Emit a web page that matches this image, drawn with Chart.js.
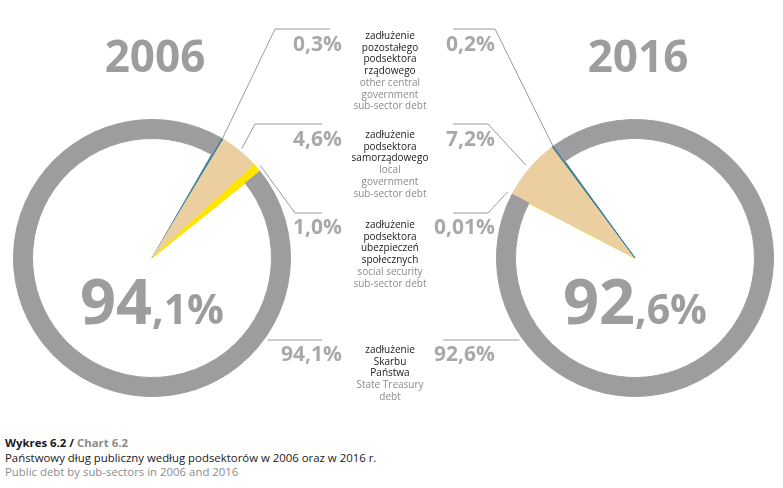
<!DOCTYPE html>
<html lang="pl">
<head>
<meta charset="utf-8">
<title>Wykres 6.2</title>
<script src="https://cdn.jsdelivr.net/npm/chart.js@4.4.1/dist/chart.umd.min.js"></script>
<style>
  body { margin: 0; width: 783px; height: 488px; background: #fff; font-family: "Open Sans", sans-serif; position: relative; overflow: hidden; }
  canvas { position: absolute; top: 0; }
  #pie2006 { left: 0; }
  #pie2016 { left: 392px; }
  .year { position: absolute; top: 33px; width: 160px; margin-left: -80px; text-align: center; font-size: 44px; line-height: 44px; font-weight: 700; color: #9d9d9f; }
  .big { position: absolute; top: 268px; width: 220px; margin-left: -110px; text-align: center; font-size: 63px; line-height: 64px; font-weight: 700; color: #9d9d9f; }
  .big span { font-size: 41px; }
  .pct { position: absolute; font-size: 21px; line-height: 21px; font-weight: 700; color: #a9a9ab; text-align: right; width: 80px; }
  .name { position: absolute; left: 330px; width: 120px; text-align: center; font-size: 10px; line-height: 11.7px; color: #1a1a1a; }
  .name .en { color: #8c8c8c; }
  #caption { position: absolute; left: 5px; top: 436px; font-size: 11.4px; line-height: 14.6px; color: #1a1a1a; }
  #caption b { font-weight: 700; }
  #caption .grey { color: #8c8c8c; }
</style>
</head>
<body>
<canvas id="pie2006" width="392" height="420"></canvas>
<canvas id="pie2016" width="391" height="420"></canvas>
<div id="labels"></div>
<div id="caption">
  <b>Wykres 6.2 / <span class="grey">Chart 6.2</span></b><br>
  Państwowy dług publiczny według podsektorów w 2006 oraz w 2016 r.<br>
  <span class="grey">Public debt by sub-sectors in 2006 and 2016</span>
</div>
<script>
// dane: udział podsektorów w państwowym długu publicznym (%)
const sectorsPl = ["zadłużenie<br>pozostałego<br>podsektora<br>rządowego", "zadłużenie<br>podsektora<br>samorządowego", "zadłużenie<br>podsektora<br>ubezpieczeń<br>społecznych", "zadłużenie<br>Skarbu<br>Państwa"];
const sectorsEn = ["other central<br>government<br>sub-sector debt", "local<br>government<br>sub-sector debt", "social security<br>sub-sector debt", "State Treasury<br>debt"];
const years = ["2006", "2016"];
const share2006 = [0.3, 4.6, 1.0, 94.1];
const share2016 = [0.2, 7.2, 0.01, 92.6];
const sectorColors = ["#3a7e9a", "#ebcfa1", "#ffe500", "#9d9d9f"];

// układ (pozycje napisów i linii)
const rowTops = [30, 129, 219, 344];
const pctTops = [33, 128, 216, 343];
const lineY = [29, 124, 213, 340];

function fmt(v) {
  return (v < 0.1 ? v.toFixed(2) : v.toFixed(1)).replace(".", ",");
}

// linie odniesienia od wycinków do opisów
const leaderPlugin = {
  id: "leaders",
  afterDraw(chart, args, opts) {
    const ctx = chart.ctx;
    const arcs = chart.getDatasetMeta(0).data;
    ctx.save();
    ctx.strokeStyle = "#9a9a9a";
    ctx.lineWidth = 1;
    opts.items.forEach(item => {
      const arc = arcs[item.index];
      const R = arc.outerRadius;
      let start;
      if (item.ringY !== undefined) {
        const dy = item.ringY - arc.y;
        const dx = Math.sqrt(R * R - dy * dy) + 4;
        start = [arc.x + item.side * dx, item.ringY];
      } else {
        const a = (arc.startAngle + arc.endAngle) / 2;
        const r = R + item.gap;
        start = [arc.x + r * Math.cos(a), arc.y + r * Math.sin(a)];
      }
      ctx.beginPath();
      ctx.moveTo(start[0], start[1]);
      item.path.forEach(p => ctx.lineTo(p[0] - opts.offsetX, p[1]));
      ctx.stroke();
    });
    ctx.restore();
  }
};

function makePie(id, values, order, rotation, padding, leaders, offsetX) {
  const data = order.map(i => values[i]);
  const colors = order.map(i => sectorColors[i]);
  const inner = order.map(i => i === 3 ? "rgba(0,0,0,0)" : sectorColors[i]);
  return new Chart(document.getElementById(id), {
    type: "doughnut",
    data: {
      labels: order.map(i => sectorsEn[i].replace(/<br>/g, " ")),
      datasets: [
        { data: data, backgroundColor: colors, borderColor: colors, borderWidth: 1, weight: 19 },
        { data: data, backgroundColor: inner, borderColor: inner, borderWidth: 1, weight: 119.5 }
      ]
    },
    options: {
      responsive: false,
      animation: false,
      events: [],
      cutout: 0,
      rotation: rotation,
      hoverOffset: 0,
      hoverBorderWidth: 1,
      layout: { padding: padding },
      plugins: {
        legend: { display: false },
        tooltip: { enabled: false },
        leaders: { items: leaders, offsetX: offsetX }
      }
    },
    plugins: [leaderPlugin]
  });
}

// 2006: kolejność zgodnie z ruchem wskazówek zegara od 30°
const chart2006 = makePie("pie2006", share2006, [0, 1, 2, 3], 30,
  { left: 13, right: 101, top: 119, bottom: 23 },
  [
    { index: 0, gap: 0, path: [[275, lineY[0]], [330, lineY[0]]] },
    { index: 1, gap: 3, path: [[255, lineY[1]], [322, lineY[1]]] },
    { index: 2, gap: 4, path: [[295, lineY[2]], [322, lineY[2]]] },
    { index: 3, ringY: lineY[3], side: 1, path: [[322, lineY[3]]] }
  ], 0);

// 2016: żółty, beżowy, niebieski, szary
const chart2016 = makePie("pie2016", share2016, [2, 1, 0, 3], -62.6,
  { left: 104, right: 9, top: 119, bottom: 23 },
  [
    { index: 0, gap: 5, path: [[488, lineY[2]], [453, lineY[2]]] },
    { index: 1, gap: 5, path: [[488, lineY[1]], [453, lineY[1]]] },
    { index: 2, gap: 0, path: [[495, lineY[0]], [453, lineY[0]]] },
    { index: 3, ringY: lineY[3], side: -1, path: [[443, lineY[3]]] }
  ], 392);

// napisy
const labels = document.getElementById("labels");
let html = "";
const centers = [152, 635];
[share2006, share2016].forEach((s, k) => {
  const total = fmt(s[3]).split(",");
  html += `<div class="year" style="left:${centers[k] + 3}px">${years[k]}</div>`;
  html += `<div class="big" style="left:${centers[k]}px">${total[0]}<span>,${total[1]}%</span></div>`;
});
sectorsPl.forEach((name, i) => {
  html += `<div class="pct" style="left:262px;top:${pctTops[i]}px">${fmt(share2006[i])}%</div>`;
  html += `<div class="pct" style="left:415px;top:${pctTops[i]}px">${fmt(share2016[i])}%</div>`;
  html += `<div class="name" style="top:${rowTops[i]}px">${name}<br><span class="en">${sectorsEn[i]}</span></div>`;
});
labels.innerHTML = html;
</script>
</body>
</html>
